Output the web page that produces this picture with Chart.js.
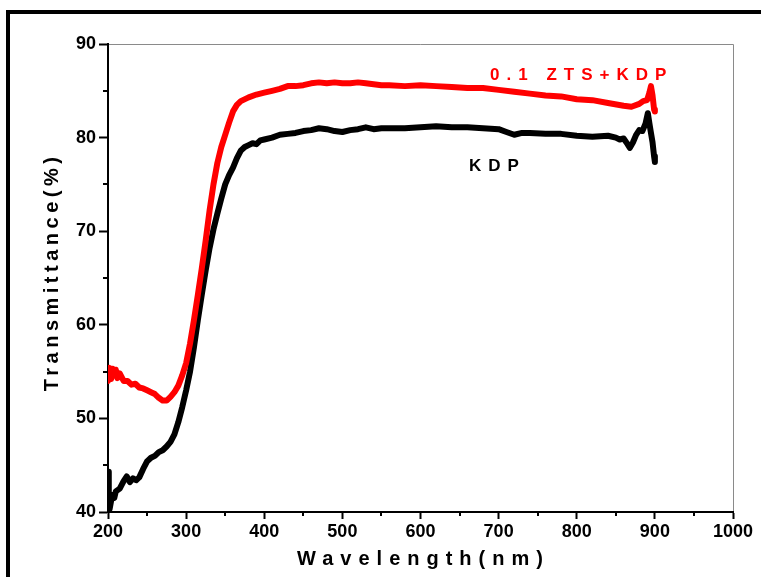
<!DOCTYPE html>
<html>
<head>
<meta charset="utf-8">
<script src="https://cdn.jsdelivr.net/npm/chart.js@4/dist/chart.umd.min.js"></script>
<style>
  html, body { margin: 0; padding: 0; background: #fff; }
  #wrap { position: relative; width: 761px; height: 577px; }
</style>
</head>
<body>
<div id="wrap"><canvas id="c" width="761" height="577"></canvas></div>
<script>
// ---- data ----
const wavelengthZTS = [200,202,204,206,208,210,212,215,220,225,230,235,240,245,250,255,260,265,270,275,280,285,290,295,300,305,310,315,320,325,330,335,340,345,350,355,360,365,370,380,390,400,410,420,430,440,450,460,470,480,490,500,510,520,530,540,550,560,580,600,620,640,660,680,700,720,740,760,780,800,820,840,860,870,880,885,890,893,895,897,899,900];
const transZTS = [54.0,55.4,54.2,55.3,54.6,55.2,54.3,54.8,54.0,54.0,53.6,53.7,53.3,53.2,53.0,52.8,52.6,52.2,51.9,51.9,52.3,52.8,53.5,54.6,55.9,58.0,60.5,63.2,66.0,69.0,72.2,75.0,77.3,79.0,80.3,81.6,82.8,83.5,83.9,84.3,84.6,84.8,85.0,85.2,85.5,85.5,85.6,85.8,85.9,85.8,85.9,85.8,85.8,85.9,85.8,85.7,85.6,85.6,85.5,85.6,85.5,85.4,85.3,85.3,85.1,84.9,84.7,84.5,84.4,84.1,84.0,83.7,83.4,83.3,83.6,83.9,84.0,84.8,85.5,84.5,83.0,82.8];

const wavelengthKDP = [200,201,202,204,206,208,210,215,220,224,228,232,236,240,245,250,255,260,265,270,275,280,285,290,295,300,305,310,315,320,325,330,335,340,345,350,355,360,365,370,375,380,385,390,395,400,410,420,430,440,450,460,470,480,490,500,510,520,530,540,550,560,580,600,620,640,660,680,700,710,720,730,740,760,780,800,820,840,850,855,860,865,868,872,876,880,884,888,891,893,895,897,899,900];
const transKDP = [44.3,42.0,40.3,41.2,41.8,41.5,42.2,42.5,43.3,43.8,43.2,43.6,43.4,43.7,44.6,45.4,45.8,46.0,46.4,46.6,47.0,47.5,48.3,49.6,51.2,53.0,55.0,57.6,60.5,63.2,65.8,68.2,70.2,71.9,73.5,75.0,76.0,76.8,77.8,78.6,79.0,79.2,79.4,79.3,79.7,79.8,80.0,80.3,80.4,80.5,80.7,80.8,81.0,80.9,80.7,80.6,80.8,80.9,81.1,80.9,81.0,81.0,81.0,81.1,81.2,81.1,81.1,81.0,80.9,80.6,80.3,80.5,80.5,80.4,80.4,80.2,80.1,80.2,80.0,79.8,79.9,79.3,78.9,79.5,80.3,80.8,80.7,81.5,82.6,81.5,80.5,79.5,78.0,77.4];

const xTickValues = [200,300,400,500,600,700,800,900,1000];
const yTickValues = [40,50,60,70,80,90];
const xMinorTicks = [250,350,450,550,650,750,850,950];
const yMinorTicks = [45,55,65,75,85];

const seriesNames = ['0.1 ZTS+KDP', 'KDP'];
const seriesColors = ['#ff0000', '#000000'];
// label anchor in data coordinates: [wavelength, transmittance]
const labelAnchors = [[689, 86.2], [662, 76.4]];

const xTitle = 'Wavelength(nm)';
const yTitle = 'Transmittance(%)';

const FONT = '"Liberation Sans", Arial, sans-serif';

function toPoints(xs, ys) { return xs.map((x, i) => ({ x: x, y: ys[i] })); }

const decor = {
  id: 'decor',
  beforeDraw(chart) {
    const ctx = chart.ctx;
    ctx.save();
    ctx.fillStyle = '#ffffff';
    ctx.fillRect(0, 0, chart.width, chart.height);
    // outer frame (top + left)
    ctx.fillStyle = '#000';
    ctx.fillRect(6, 10, chart.width - 6, 4);
    ctx.fillRect(6, 10, 4, chart.height - 10);
    // top and right plot border
    const a = chart.chartArea;
    ctx.strokeStyle = '#8a8a8a';
    ctx.lineWidth = 1;
    ctx.beginPath();
    ctx.moveTo(a.left, a.top + 0.5);
    ctx.lineTo(a.right + 0.5, a.top + 0.5);
    ctx.lineTo(a.right + 0.5, a.bottom);
    ctx.stroke();
    ctx.restore();
  },
  afterDraw(chart) {
    const ctx = chart.ctx;
    const xs = chart.scales.x, ys = chart.scales.y;
    const a = chart.chartArea;
    ctx.save();
    // minor ticks
    ctx.strokeStyle = '#000';
    ctx.lineWidth = 2;
    ctx.beginPath();
    yMinorTicks.forEach(v => {
      const y = Math.round(ys.getPixelForValue(v));
      ctx.moveTo(a.left - 5, y); ctx.lineTo(a.left, y);
    });
    xMinorTicks.forEach(v => {
      const x = Math.round(xs.getPixelForValue(v));
      ctx.moveTo(x, a.bottom); ctx.lineTo(x, a.bottom + 4);
    });
    ctx.stroke();

    // axis titles
    ctx.fillStyle = '#000';
    ctx.font = 'bold 20px ' + FONT;
    ctx.textBaseline = 'alphabetic';
    ctx.textAlign = 'center';
    ctx.letterSpacing = '7px';
    ctx.fillText(xTitle, (a.left + a.right) / 2 + 3, 565);
    ctx.save();
    ctx.translate(58, (a.top + a.bottom) / 2 - 4);
    ctx.rotate(-Math.PI / 2);
    ctx.letterSpacing = '4.5px';
    ctx.fillText(yTitle, 2, 0);
    ctx.restore();

    // series labels
    ctx.font = 'bold 17px ' + FONT;
    ctx.textAlign = 'left';
    ctx.letterSpacing = '7px';
    seriesNames.forEach((name, i) => {
      ctx.fillStyle = seriesColors[i];
      ctx.fillText(name, xs.getPixelForValue(labelAnchors[i][0]), ys.getPixelForValue(labelAnchors[i][1]));
    });
    ctx.restore();
  }
};

const tickFont = { family: FONT, size: 18, weight: 'bold' };

new Chart(document.getElementById('c'), {
  type: 'line',
  data: {
    datasets: [
      { label: seriesNames[0], data: toPoints(wavelengthZTS, transZTS), borderColor: seriesColors[0], borderWidth: 6, pointRadius: 0, tension: 0, fill: false, borderJoinStyle: 'round', borderCapStyle: 'round' },
      { label: seriesNames[1], data: toPoints(wavelengthKDP, transKDP), borderColor: seriesColors[1], borderWidth: 6, pointRadius: 0, tension: 0, fill: false, borderJoinStyle: 'round', borderCapStyle: 'round' }
    ]
  },
  options: {
    responsive: false,
    animation: false,
    devicePixelRatio: 1,
    layout: { padding: { top: 44, right: 28, left: 0, bottom: 0 } },
    plugins: { legend: { display: false }, tooltip: { enabled: false }, title: { display: false } },
    scales: {
      x: {
        type: 'linear', min: 200, max: 1000,
        afterBuildTicks: (s) => { s.ticks = xTickValues.map(v => ({ value: v })); },
        ticks: { font: tickFont, color: '#000', padding: 2, maxRotation: 0, autoSkip: false, callback: (v) => String(v) },
        grid: { display: true, drawOnChartArea: false, drawTicks: true, tickLength: 7, tickWidth: 2, tickColor: '#000', color: '#000' },
        border: { display: true, color: '#000', width: 2 },
        afterFit: (s) => { s.height = 65; }
      },
      y: {
        type: 'linear', min: 40, max: 90,
        afterBuildTicks: (s) => { s.ticks = yTickValues.map(v => ({ value: v })); },
        ticks: { font: tickFont, color: '#000', padding: 3, autoSkip: false, callback: (v) => String(v) },
        grid: { display: true, drawOnChartArea: false, drawTicks: true, tickLength: 9, tickWidth: 2, tickColor: '#000', color: '#000' },
        border: { display: true, color: '#000', width: 2 },
        afterFit: (s) => { s.width = 108; }
      }
    }
  },
  plugins: [decor]
});
</script>
</body>
</html>
